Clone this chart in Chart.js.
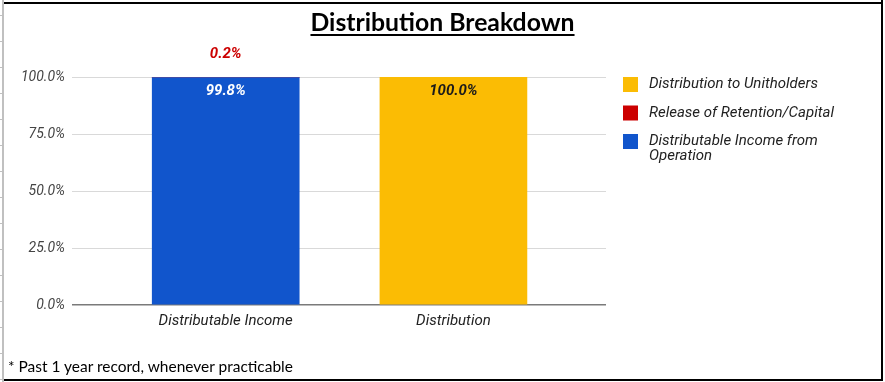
<!DOCTYPE html>
<html><head><meta charset="utf-8">
<script src="https://cdn.jsdelivr.net/npm/chart.js@4.4.1/dist/chart.umd.min.js"></script>
<style>
html,body{margin:0;padding:0;background:#fff;width:885px;height:382px;overflow:hidden;}
#wrap{position:relative;width:885px;height:382px;}
#c{position:absolute;left:0;top:0;}
.ln{position:absolute;}
#title{position:absolute;left:0;width:885px;top:7px;text-align:center;}
#title span{display:inline-block;font-family:Lato,"Open Sans",sans-serif;font-weight:bold;font-size:23px;color:#000;text-decoration:underline;text-decoration-thickness:2px;text-underline-offset:3px;white-space:nowrap;}
#foot{position:absolute;left:8px;top:357px;font-family:Lato,"Open Sans",sans-serif;font-size:16px;color:#000;white-space:nowrap;}
</style></head>
<body><div id="wrap">
<canvas id="c" width="885" height="382"></canvas>
<div id="title"><span id="tspan" data-w="264">Distribution Breakdown</span></div>
<div id="foot" data-w="285">* Past 1 year record, whenever practicable</div>
<div class="ln" style="left:3px;top:2px;width:880px;height:2px;background:#000"></div>
<div class="ln" style="left:881px;top:0;width:2px;height:381px;background:#000"></div>
<div class="ln" style="left:3px;top:379px;width:880px;height:2px;background:#000"></div>
<div class="ln" style="left:2px;top:0;width:2px;height:382px;background:#c0c0c0"></div>
<div id="rows"></div>
</div>
<script>
// ---- data ----
const categories = ['Distributable Income', 'Distribution'];
const seriesNames = ['Distributable Income from Operation', 'Release of Retention/Capital', 'Distribution to Unitholders'];
const operationIncome = [99.8, null];
const releaseRetention = [0.2, null];
const distributionUnitholders = [null, 100.0];
const yTicks = [0, 25, 50, 75, 100];
const seriesColors = ['#1155cc', '#cc0000', '#fbbc04'];
const labelColors = ['#ffffff', '#cc0000', '#1a1a1a'];
const legendOrder = [2, 1, 0];

// spreadsheet row ticks on the left edge
(function(){
  const r = document.getElementById('rows');
  for (let y = 15; y < 382; y += 26) {
    const d = document.createElement('div');
    d.className = 'ln';
    d.style.cssText = 'left:0;top:' + y + 'px;width:3px;height:1px;background:#c0c0c0';
    r.appendChild(d);
  }
})();

function toPoints(arr) { return arr.map((v, i) => ({ x: i + 1, y: v })); }
const seriesData = [operationIncome, releaseRetention, distributionUnitholders];

const labelsPlugin = {
  id: 'barLabels',
  afterDatasetsDraw(chart) {
    const ctx = chart.ctx;
    ctx.save();
    ctx.font = 'italic bold 15px Roboto, sans-serif';
    ctx.textAlign = 'center';
    ctx.textBaseline = 'middle';
    chart.data.datasets.forEach((ds, di) => {
      const meta = chart.getDatasetMeta(di);
      meta.data.forEach((bar, i) => {
        const v = seriesData[di][i];
        if (v === null || v === undefined) return;
        const txt = v.toFixed(1) + '%';
        ctx.fillStyle = labelColors[di];
        let y;
        if (di === 1) y = bar.y - 23; else y = bar.y + 14;
        ctx.fillText(txt, bar.x, y);
      });
    });
    ctx.restore();
  }
};

const legendPlugin = {
  id: 'sideLegend',
  afterDraw(chart) {
    const ctx = chart.ctx;
    ctx.save();
    ctx.font = 'italic 15px Roboto, sans-serif';
    ctx.textAlign = 'left';
    ctx.textBaseline = 'middle';
    const x0 = 623, tx = 649, maxW = 190, lineH = 14.5;
    let y = 77;
    legendOrder.forEach(di => {
      ctx.fillStyle = seriesColors[di];
      ctx.fillRect(x0, y, 15, 15);
      const words = seriesNames[di].split(' ');
      const lines = [];
      let cur = '';
      words.forEach(w => {
        const t = cur ? cur + ' ' + w : w;
        if (ctx.measureText(t).width > maxW && cur) { lines.push(cur); cur = w; } else cur = t;
      });
      lines.push(cur);
      ctx.fillStyle = '#222';
      lines.forEach((l, k) => ctx.fillText(l, tx, y + 7.5 + k * lineH));
      y += 28.5 + (lines.length - 1) * lineH;
    });
    ctx.restore();
  }
};

function draw() {
  new Chart(document.getElementById('c'), {
    type: 'bar',
    data: {
      datasets: seriesData.map((arr, i) => ({
        label: seriesNames[i],
        data: toPoints(arr),
        backgroundColor: seriesColors[i],
        borderWidth: 0,
        barThickness: 147
      }))
    },
    options: {
      responsive: false,
      animation: false,
      layout: { padding: { top: 77, right: 279, bottom: 47, left: 0 } },
      plugins: { legend: { display: false }, tooltip: { enabled: false }, title: { display: false } },
      scales: {
        x: {
          type: 'linear', stacked: true, offset: false, min: 0.325, max: 2.67,
          afterBuildTicks: s => { s.ticks = categories.map((c, i) => ({ value: i + 1 })); },
          afterFit: s => { s.height = 30; },
          grid: { display: false, drawTicks: false },
          border: { display: false },
          ticks: {
            autoSkip: false, maxRotation: 0, padding: 7,
            callback: v => categories[v - 1],
            font: { family: 'Roboto', style: 'italic', size: 15 }, color: '#222'
          }
        },
        y: {
          stacked: true, min: 0, max: 100,
          afterBuildTicks: s => { s.ticks = yTicks.map(v => ({ value: v })); },
          afterFit: s => { s.width = 72; },
          grid: {
            drawTicks: false,
            color: c => c.tick && c.tick.value === 0 ? '#7a7a7a' : '#d9d9d9',
            lineWidth: c => c.tick && c.tick.value === 0 ? 1.5 : 1
          },
          border: { display: false },
          ticks: {
            padding: 7,
            callback: v => Number(v).toFixed(1) + '%',
            font: { family: 'Roboto', style: 'italic', size: 14 }, color: '#444'
          }
        }
      }
    },
    plugins: [labelsPlugin, legendPlugin]
  });
}

function fit() {
  document.querySelectorAll('[data-w]').forEach(el => {
    const target = +el.dataset.w;
    for (let k = 0; k < 4; k++) {
      const w = el.getBoundingClientRect().width;
      const fs = parseFloat(getComputedStyle(el).fontSize);
      el.style.fontSize = (fs * target / w) + 'px';
    }
  });
}

(document.fonts && document.fonts.load ? Promise.all([
  document.fonts.load('italic 15px Roboto'),
  document.fonts.load('italic bold 15px Roboto'),
  document.fonts.load('bold 23px Lato'),
  document.fonts.load('16px Lato')
]) : Promise.resolve()).catch(() => {}).then(() => { fit(); draw(); });
</script>
</body></html>
